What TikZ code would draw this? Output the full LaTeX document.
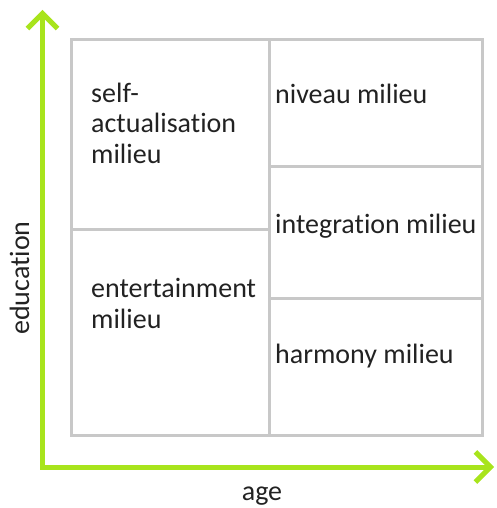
\documentclass[tikz,border=0pt]{standalone}
\usepackage{fontspec}
\setmainfont{Carlito}[Ligatures=NoCommon]
\usetikzlibrary{arrows.meta}
\definecolor{axisgreen}{RGB}{168,228,28}
\definecolor{gridgray}{RGB}{200,200,200}
\definecolor{txt}{RGB}{34,34,34}
\begin{document}
\begin{tikzpicture}[x=1pt,y=-1pt,
  cell/.style={draw=gridgray, line width=3pt},
  lbl/.style={anchor=base west, inner sep=0pt, text=txt, font=\fontsize{28}{30.5}\selectfont, align=left},
  axlbl/.style={anchor=base, inner sep=0pt, text=txt, font=\fontsize{28}{30}\selectfont},
  axis/.style={draw=axisgreen, line width=5pt, -{Straight Barb[length=15pt,width=30pt,line width=5pt]}}]
\useasboundingbox (0,0) rectangle (497,508);
% cells
\draw[cell] (71,40) rectangle (269,229);
\draw[cell] (71,229) rectangle (269,435);
\draw[cell] (269,40) rectangle (482,166);
\draw[cell] (269,166) rectangle (482,298);
\draw[cell] (269,298) rectangle (482,435);
% labels (multi-line nodes are anchored at the last baseline)
\node[lbl] (self) at (91,163) {self-\\actualisation\\milieu};
\node[lbl] (ent) at (91,328) {entertainment\\milieu};
\node[lbl] (niv) at (275,103) {niveau milieu};
\node[lbl] (int) at (275,233) {integration milieu};
\node[lbl] (har) at (275,363) {harmony milieu};
% axes
\coordinate (o) at (42.5,467);
\coordinate (ytip) at (42.5,10);
\coordinate (xtip) at (494,467);
\draw[axis] (42.5,469.5) -- (ytip);
\draw[axis] (40,467) -- (xtip);
\node[axlbl, rotate=90] (edu) at (29,278) {education};
\node[axlbl] (age) at (262,500) {age};
\end{tikzpicture}
\end{document}
